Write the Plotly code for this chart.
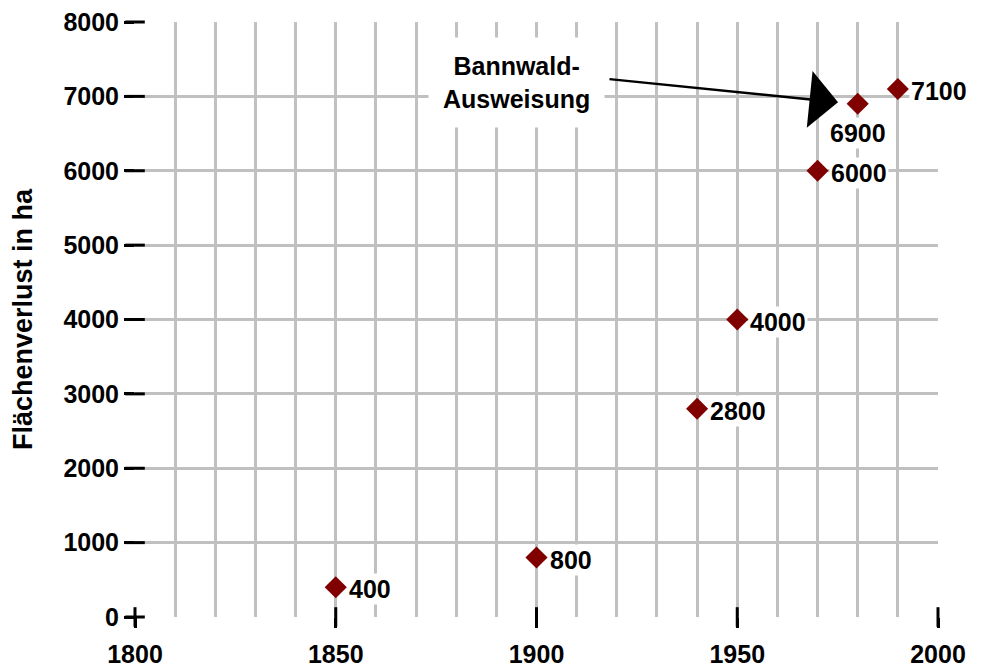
import plotly.graph_objects as go

years = [1850, 1900, 1940, 1950, 1970, 1980, 1990]
loss_ha = [400, 800, 2800, 4000, 6000, 6900, 7100]
labels = ["400", "800", "2800", "4000", "6000", "6900", "7100"]
x_ticks = [1800, 1850, 1900, 1950, 2000]
y_ticks = [0, 1000, 2000, 3000, 4000, 5000, 6000, 7000, 8000]
y_title = "Flächenverlust in ha"
callout_text = "Bannwald-<br>Ausweisung"
callout_tip = (1975.1, 6920)
callout_tail = (1917.8, 7234)
callout_box = (1895, 7180)

FONT = "Liberation Sans, Arial, sans-serif"
GRID = "#c0c0c0"
MARK = "#800000"

fig = go.Figure()
fig.add_trace(go.Scatter(
    x=years, y=loss_ha, mode="markers",
    marker=dict(symbol="diamond", size=17, color=MARK),
    hoverinfo="skip", showlegend=False,
))

# crossing tick marks (drawn on top of the grid, not clipped)
fig.add_trace(go.Scatter(
    x=[x_ticks[0]] * len(y_ticks), y=y_ticks, mode="markers", cliponaxis=False,
    marker=dict(symbol="line-ew", size=14, color="black", line=dict(color="black", width=3)),
    hoverinfo="skip", showlegend=False,
))
fig.add_trace(go.Scatter(
    x=x_ticks, y=[y_ticks[0]] * len(x_ticks), mode="markers", cliponaxis=False,
    marker=dict(symbol="line-ns", size=14, color="black", line=dict(color="black", width=3)),
    hoverinfo="skip", showlegend=False,
))

for xv, yv, lab in zip(years, loss_ha, labels):
    if lab == "6900":
        fig.add_annotation(x=xv, y=yv, text=lab, showarrow=False,
                           xanchor="center", yanchor="middle", yshift=-29,
                           bgcolor="white", borderpad=1,
                           font=dict(family=FONT, size=25, color="black", weight="bold"))
    else:
        fig.add_annotation(x=xv, y=yv, text=lab, showarrow=False,
                           xanchor="left", yanchor="middle", xshift=11, yshift=-2,
                           bgcolor="white", borderpad=1,
                           font=dict(family=FONT, size=25, color="black", weight="bold"))

fig.add_annotation(x=callout_box[0], y=callout_box[1], text=callout_text,
                   showarrow=False, xanchor="center", yanchor="middle",
                   bgcolor="white", borderpad=14, align="center",
                   font=dict(family=FONT, size=25, color="black", weight="bold"))
fig.add_annotation(x=callout_tip[0], y=callout_tip[1], ax=callout_tail[0], ay=callout_tail[1],
                   axref="x", ayref="y", xref="x", yref="y", text="",
                   showarrow=True, arrowhead=1, arrowwidth=2.5, arrowsize=3.8,
                   arrowcolor="black")

tickfont = dict(family=FONT, size=25, color="black", weight="bold")

fig.update_layout(
    width=991, height=667,
    margin=dict(l=135, r=53, t=22, b=50),
    paper_bgcolor="white", plot_bgcolor="white",
    xaxis=dict(range=[1800, 2000], tickvals=x_ticks, showline=False, zeroline=False,
               automargin=False,
               ticks="outside", ticklen=10, tickwidth=3, tickcolor="black",
               showgrid=True, gridcolor=GRID, gridwidth=3,
               minor=dict(dtick=10, tick0=1800, showgrid=True, gridcolor=GRID, gridwidth=3),
               tickfont=tickfont, ticklabelstandoff=5),
    yaxis=dict(range=[0, 8000], tickvals=y_ticks, showline=False, zeroline=False,
               automargin=False,
               ticks="outside", ticklen=10, tickwidth=3, tickcolor="black",
               showgrid=True, gridcolor=GRID, gridwidth=3,
               tickfont=tickfont, ticklabelstandoff=0,
               title=dict(text=y_title, font=dict(family=FONT, size=27, color="black", weight="bold"),
                          standoff=22)),
)

fig.write_html("out.html", config={"displayModeBar": False},
               post_script="document.body.style.margin='0';document.body.style.overflow='hidden';")
